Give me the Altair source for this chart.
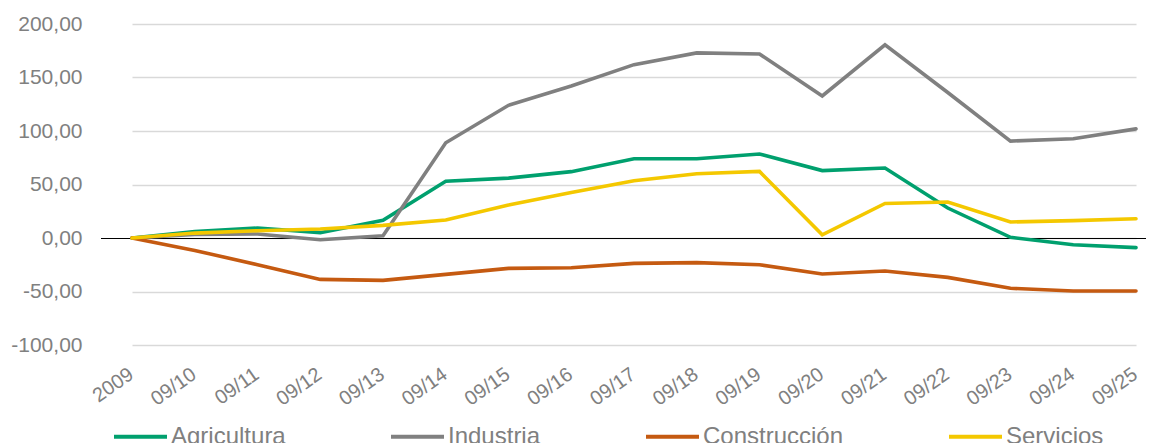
import altair as alt
import pandas as pd

categories = ["2009", "09/10", "09/11", "09/12", "09/13", "09/14", "09/15", "09/16", "09/17",
              "09/18", "09/19", "09/20", "09/21", "09/22", "09/23", "09/24", "09/25"]
agricultura = [0, 6.0, 9.3, 5.0, 16.5, 53.0, 56.0, 62.0, 74.0, 74.0, 78.5, 63.0, 65.4, 28.0, 0.6, -6.3, -9.0]
industria = [0, 3.4, 3.7, -1.6, 2.0, 89.0, 124.0, 142.0, 162.0, 173.0, 172.0, 132.7, 180.6, 136.0, 90.6, 92.8, 102.0]
construccion = [0, -11.6, -25.0, -38.7, -39.6, -34.0, -28.4, -27.8, -23.7, -23.0, -25.0, -33.7, -30.8, -36.8, -47.0, -49.5, -49.5]
servicios = [0, 4.6, 6.8, 8.4, 11.8, 16.8, 30.8, 42.6, 53.5, 60.0, 62.2, 3.0, 32.3, 33.6, 15.0, 16.2, 18.0]

series_names = ["Agricultura", "Industria", "Construcción", "Servicios"]
series_colors = ["#00a06e", "#808080", "#c55a11", "#f4c800"]
y_ticks = [-100, -50, 0, 50, 100, 150, 200]

rows = []
for name, vals in zip(series_names, [agricultura, industria, construccion, servicios]):
    for c, v in zip(categories, vals):
        rows.append({"periodo": c, "serie": name, "valor": v})
df = pd.DataFrame(rows)

FONT = "Liberation Sans"

x_enc = alt.X("periodo:N", sort=categories,
              scale=alt.Scale(type="point", range=[31, 1035], padding=0),
              axis=alt.Axis(title=None, labelAngle=325, labelAlign="right", labelBaseline="middle",
                            labelFont=FONT, labelFontSize=20, labelColor="#808080",
                            labelPadding=27, labelOffset=-1, ticks=False, tickSize=0,
                            domain=False, grid=False))

lines = alt.Chart(df).mark_line(strokeWidth=3.6, strokeCap="round", strokeJoin="miter").encode(
    x=x_enc,
    y=alt.Y("valor:Q", scale=alt.Scale(domain=[-100, 200], nice=False, zero=False),
            axis=alt.Axis(title=None, values=y_ticks, labelFont=FONT, labelFontSize=21,
                          labelColor="#808080", labelPadding=19, ticks=False, domain=False,
                          gridColor="#d9d9d9", gridWidth=1.6,
                          labelExpr="(datum.value < 0 ? '-' : '') + replace(format(abs(datum.value), '.2f'), '.', ',')")),
    color=alt.Color("serie:N", sort=series_names,
                    scale=alt.Scale(domain=series_names, range=series_colors),
                    legend=alt.Legend(title=None, orient="none", legendX=11, legendY=384,
                                      direction="horizontal", columns=4, columnPadding=97,
                                      symbolType="stroke", symbolSize=2809, symbolStrokeWidth=4,
                                      labelFont=FONT, labelFontSize=24, labelColor="#808080",
                                      labelOffset=2, padding=0, labelLimit=400)),
)

zero_df = pd.DataFrame({"y": [0]})
zero = alt.Chart(zero_df).mark_rule(color="#000000", strokeWidth=1, yOffset=0.5).encode(y="y:Q")

chart = alt.layer(zero, lines).properties(
    width=1045, height=321,
    background="white",
    autosize=alt.AutoSizeParams(type="none"),
    padding={"left": 93, "top": 16, "right": 0, "bottom": 98},
).configure_view(strokeWidth=0, stroke=None)

chart.save("out.html", embed_options={"renderer": "svg", "actions": False})
